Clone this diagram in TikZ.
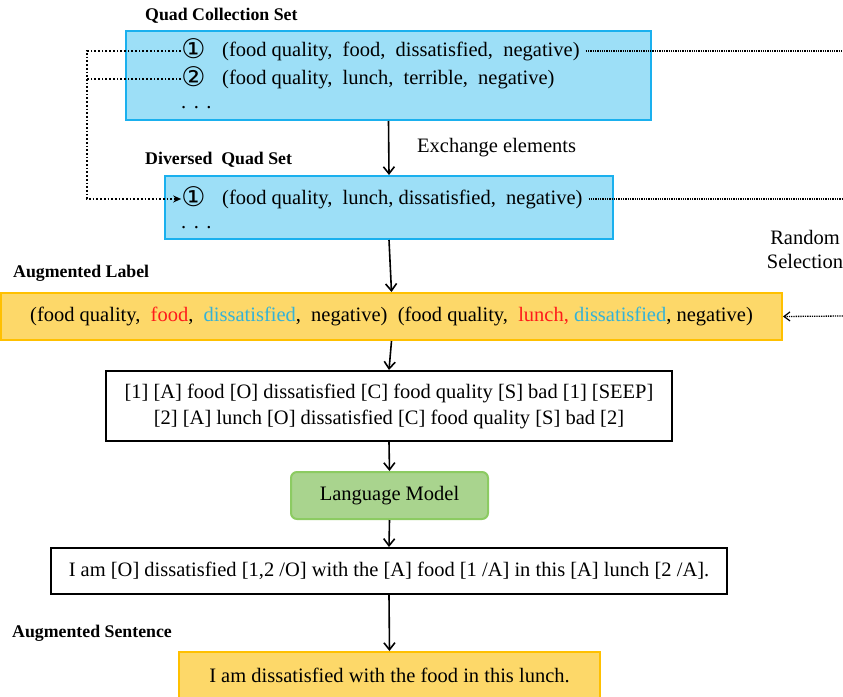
\documentclass[tikz,border=0pt]{standalone}
\usepackage{fontspec}
\setmainfont{Liberation Serif}
\newfontfamily\symfont{DejaVu Sans}
\usetikzlibrary{arrows.meta}
\definecolor{bluefill}{HTML}{9DDFF7}
\definecolor{blueline}{HTML}{1AB0EE}
\definecolor{yelfill}{HTML}{FDD869}
\definecolor{yelline}{HTML}{FFC000}
\definecolor{grnfill}{HTML}{A9D48E}
\definecolor{grnline}{HTML}{8CCB62}
\definecolor{redtxt}{HTML}{FF1A1A}
\definecolor{cyantxt}{HTML}{33B2D8}
\begin{document}
\begin{tikzpicture}[x=1pt,y=-1pt,
  font=\fontsize{20.5}{26}\selectfont,
  boxbase/.style={inner sep=0pt, line width=2pt, align=center},
  bluebox/.style={boxbase, draw=blueline, fill=bluefill},
  yelbox/.style={boxbase, draw=yelline, fill=yelfill},
  whitebox/.style={boxbase, draw=black, fill=white},
  grnbox/.style={boxbase, draw=grnline, fill=grnfill, rounded corners=6pt},
  ttl/.style={font=\fontsize{17.8}{20}\selectfont\bfseries, anchor=west, inner sep=0pt},
  txt/.style={anchor=west, inner sep=0pt},
  circnum/.style={font=\fontsize{27}{28}\selectfont\symfont, inner sep=0pt, text height=15pt, text depth=1pt},
  dots/.style={anchor=west, inner sep=0pt, text height=4pt, text depth=0pt},
  flow/.style={line width=1.6pt, -{Straight Barb[length=7pt,width=11pt,line width=1.6pt]}},
  ldot/.style={dotted, line width=1.7pt},
  rdot/.style={densely dotted, line width=1.3pt}
]
\useasboundingbox (0,0) rectangle (843,696);

% titles
\node[ttl] (tq) at (145,16) {Quad Collection Set};
\node[ttl] (td) at (145,160) {Diversed\ \ Quad Set};
\node[ttl] (tl) at (13,273) {Augmented Label};
\node[ttl] (ts) at (12,633) {Augmented Sentence};

% quad collection set
\node[bluebox, minimum width=525pt, minimum height=89pt] (q) at (388.5,75.5) {};
\node[circnum] (c1) at (193.5,51) {①};
\node[circnum] (c2) at (193.5,79) {②};
\node[txt] (t1) at (222,51) {(food quality,\ \ food,\ \ dissatisfied,\ \ negative)};
\node[txt] (t2) at (222,79) {(food quality,\ \ lunch,\ \ terrible,\ \ negative)};
\node[dots] (e1) at (181,106) {.\hspace{7.5pt}.\hspace{7.5pt}.};

% diversed quad set
\node[bluebox, minimum width=448pt, minimum height=63pt] (d) at (389,207.5) {};
\node[circnum] (c3) at (193.5,199) {①};
\node[txt] (t3) at (222,199) {(food quality,\ \ lunch, dissatisfied,\ \ negative)};
\node[dots] (e2) at (181,226) {.\hspace{7.5pt}.\hspace{7.5pt}.};

\node[txt] (ex) at (417,148) {Exchange elements};
\node[align=center, inner sep=0pt, font=\fontsize{20.5}{24}\selectfont] (rs) at (805,249) {Random\\Selection};

% augmented label
\node[yelbox, minimum width=781pt, minimum height=47pt] (al) at (391.5,316.5)
  {(food quality,\ \ \textcolor{redtxt}{food},\ \ \textcolor{cyantxt}{dissatisfied},\ \ negative)\ \ (food quality,\ \ \textcolor{redtxt}{lunch,} \textcolor{cyantxt}{dissatisfied}, negative)};

% template box
\node[whitebox, minimum width=566pt, minimum height=70pt] (b3) at (389,406)
  {[1] [A] food [O] dissatisfied [C] food quality [S] bad [1] [SEEP]\\\relax
   [2] [A] lunch [O] dissatisfied [C] food quality [S] bad [2]};

\node[grnbox, minimum width=197pt, minimum height=47pt] (lm) at (389.5,495.5) {Language Model};

\node[whitebox, minimum width=676pt, minimum height=46pt] (b4) at (389,571)
  {I am [O] dissatisfied [1,2 /O] with the [A] food [1 /A] in this [A] lunch [2 /A].};

\node[yelbox, minimum width=421pt, minimum height=46pt] (fin) at (389.5,675)
  {I am dissatisfied with the food in this lunch.};

% main flow
\draw[flow] (q.south) -- (d.north);
\draw[flow] (d.south) -- (al.north);
\draw[flow] (al.south) -- (b3.north);
\draw[flow] (b3.south) -- (lm.north);
\draw[flow] (lm.south) -- (b4.north);
\draw[flow] (b4.south) -- (fin.north);

% dotted connectors
\coordinate (lc) at (87,51);
\coordinate (lb) at (87,199);
\draw[ldot, -{Stealth[length=8pt,width=7pt]}] (c1.west) -- (lc) -- (lb) -- (c3.west);
\draw[ldot] (c2.west) -- (c2.west -| lc);
\coordinate (r1) at (843,51);
\coordinate (r2) at (843,199);
\coordinate (r3) at (843,316);
\draw[rdot, shorten <=6pt] (t1.east) -- (r1);
\draw[rdot, shorten <=6pt] (t3.east) -- (r2);
\draw[rdot, -{Straight Barb[length=6pt,width=9pt,line width=1.2pt]}] (r3) -- (al.east);
\end{tikzpicture}
\end{document}
